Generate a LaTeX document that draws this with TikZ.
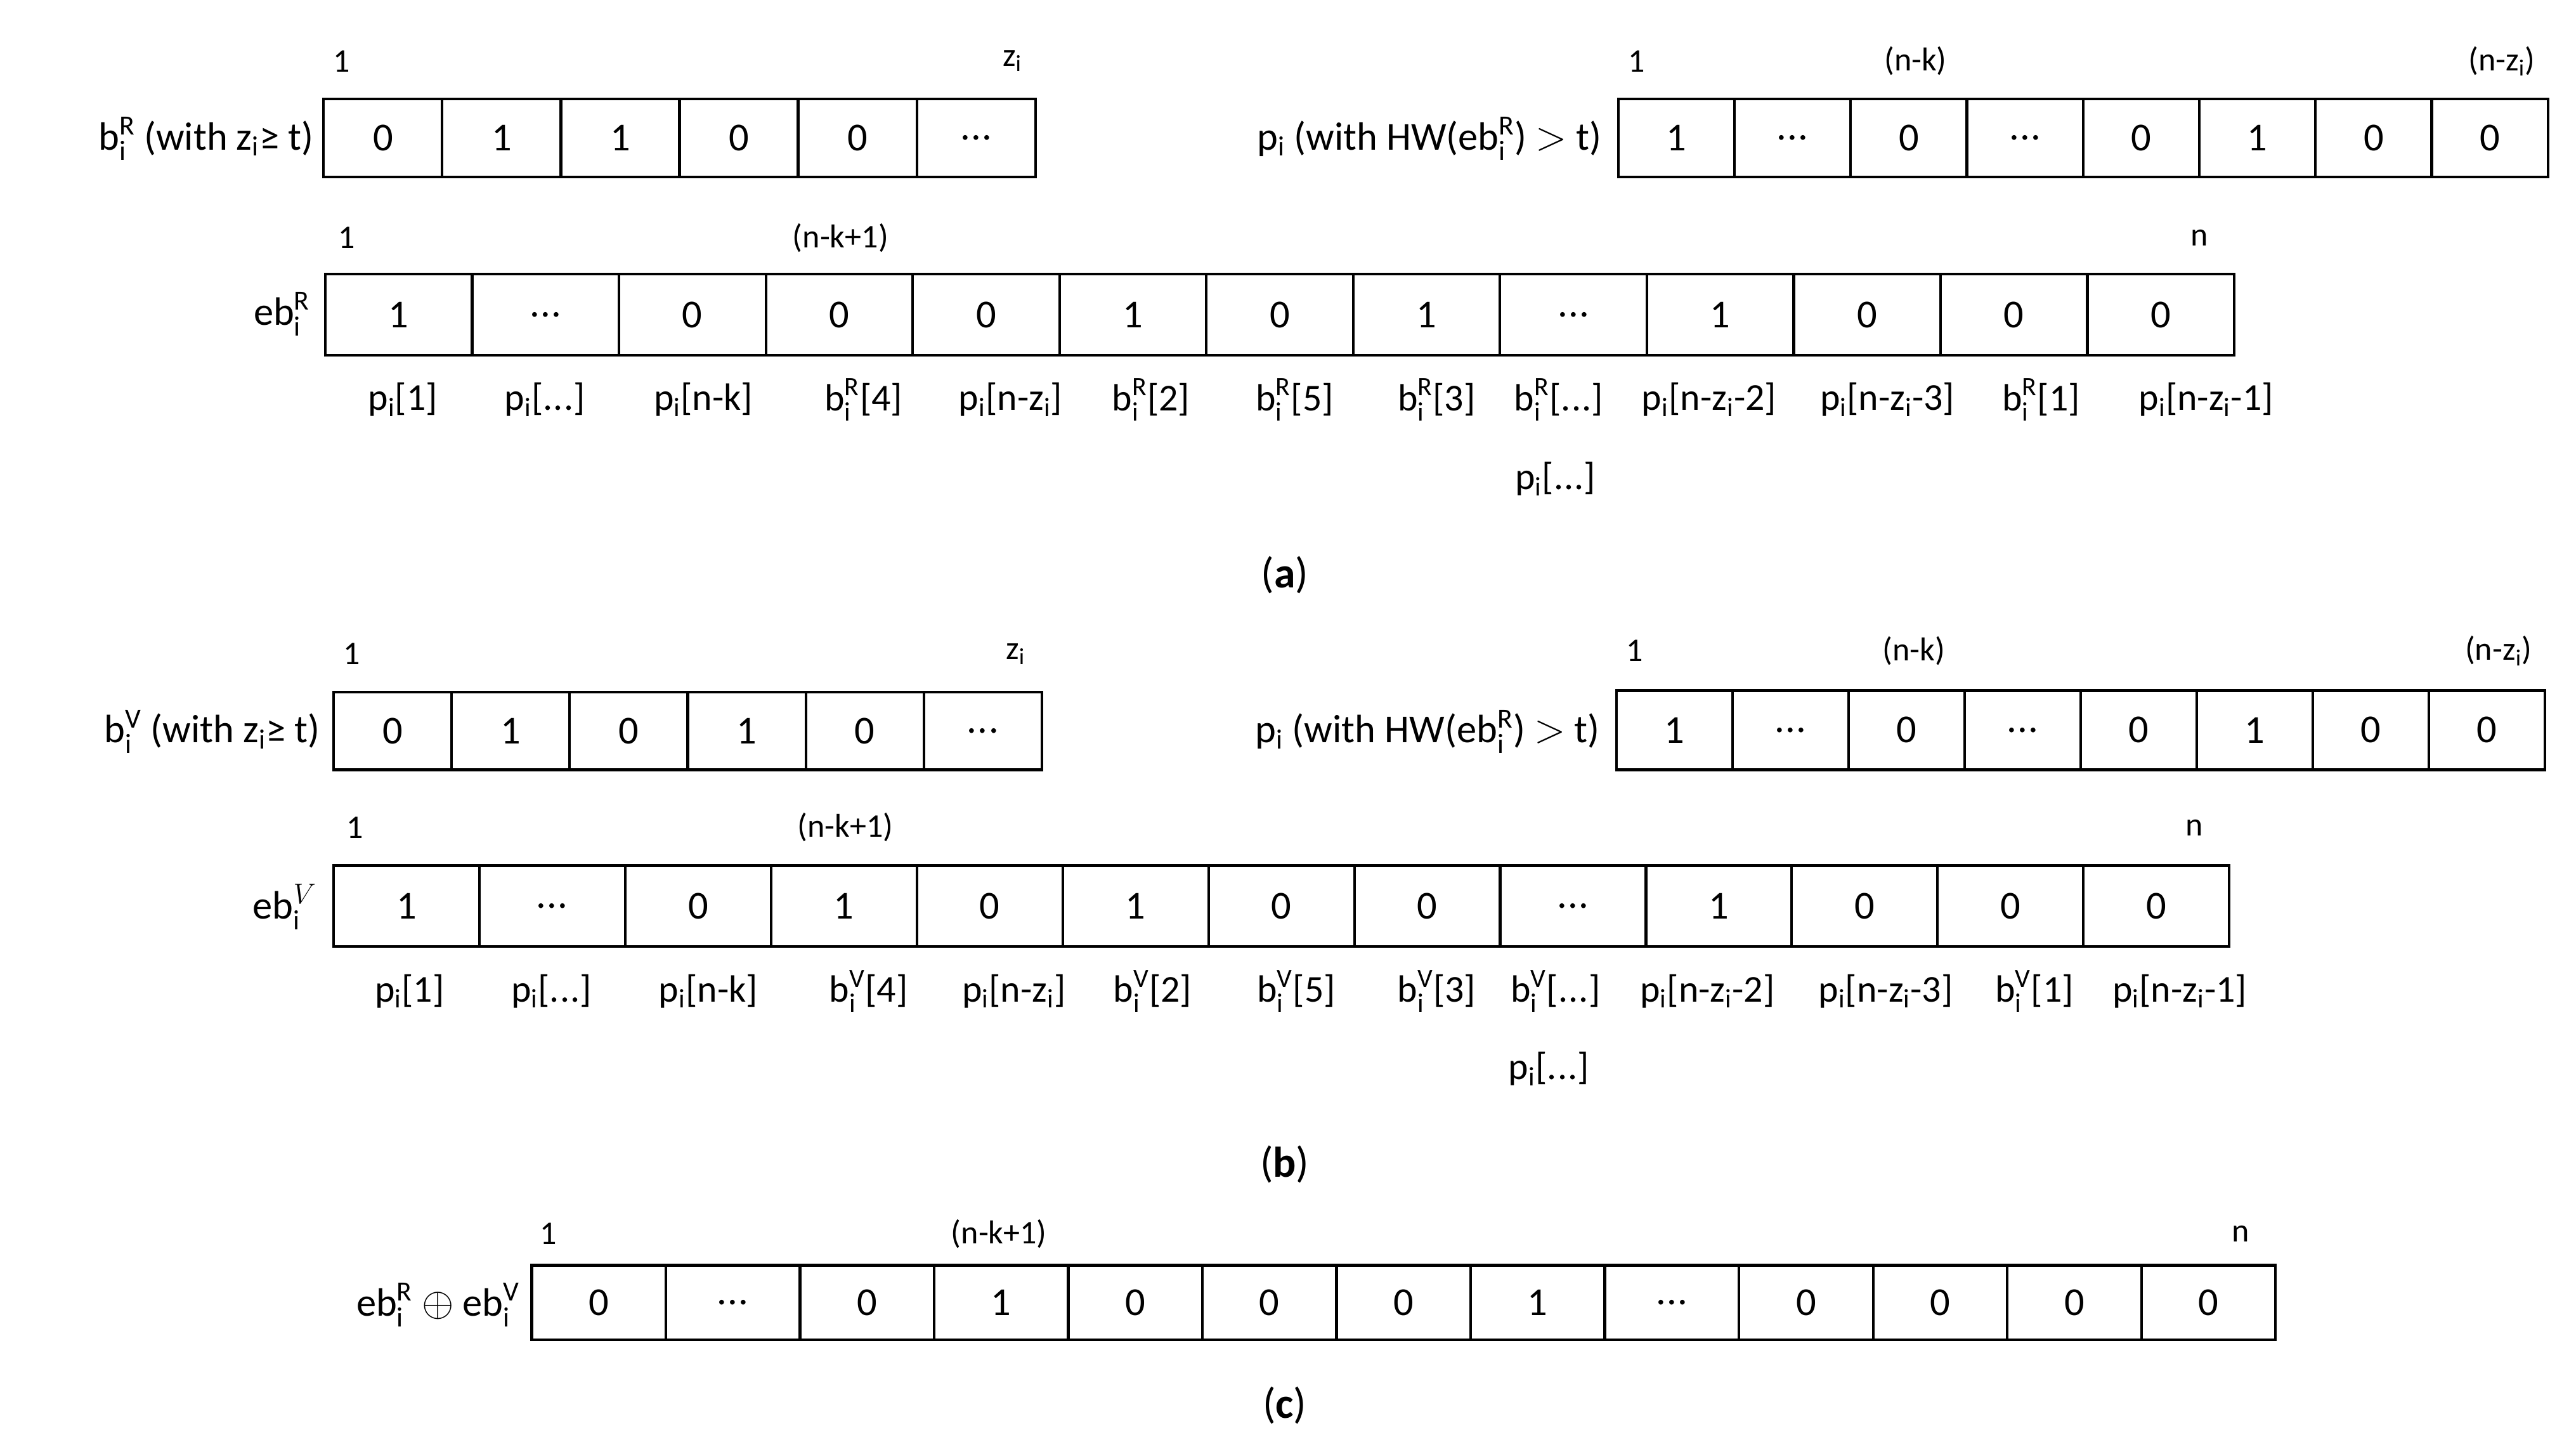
\documentclass[tikz,border=0pt]{standalone}
\usepackage{amsmath}
\usepackage{fontspec}
\setmainfont{Carlito}
\newcommand\sx[2]{$^{\text{#2}}_{\text{#1}}$}
\newcommand\dd{.\kern0.5pt.\kern0.5pt.}
\begin{document}
\begin{tikzpicture}[x=1pt,y=-1pt,
  cell/.style={draw,line width=1.6pt,inner sep=0pt,font=\fontsize{24}{26}\selectfont},
  idx/.style={font=\fontsize{20}{22}\selectfont,inner sep=0pt},
  lab/.style={font=\fontsize{24}{26}\selectfont,inner sep=0pt},
  bl/.style={font=\fontsize{23}{25}\selectfont,inner sep=0pt},
  captxt/.style={font=\fontsize{26}{28}\selectfont\rmfamily,inner sep=0pt}]
\useasboundingbox (0,0) rectangle (1560,876);
\newcommand\cellrow[7]{% name, x0, x1, ytop, ybot, count, values
  \pgfmathsetmacro\w{(#3-#2)/#6}
  \foreach \v [count=\i] in {#7} {
    \node[cell,minimum width=\w pt,minimum height={(#5-#4)*1pt}] (#1\i) at ({#2+(\i-0.5)*\w},{(#4+#5)/2}) {\v};
  }}
% ---------- (a)
\cellrow{ab}{196}{627}{60}{107}{6}{0,1,1,0,0,\dd}
\node[lab,anchor=east] (abl) at (190,84) {b\sx{i}{R} (with z$_{\text{i}}$≥ t)};
\node[idx] (abi1) at (207,37) {1};
\node[idx] (abiz) at (613,37) {z$_{\text{i}}$};
\cellrow{ap}{980}{1543}{60}{107}{8}{1,\dd,0,\dd,0,1,0,0}
\node[lab,anchor=east] (apl) at (970,84) {p$_{\text{i}}$ (with HW(eb\sx{i}{R}) $>$ t)};
\node[idx] (api1) at (991,37) {1};
\node[idx] (apik) at (1160,37) {(n-k)};
\node[idx] (apiz) at (1515,37) {(n-z$_{\text{i}}$)};
\cellrow{ae}{197}{1353}{166}{215}{13}{1,\dd,0,0,0,1,0,1,\dd,1,0,0,0}
\node[lab,anchor=east] (ael) at (188,190) {eb\sx{i}{R}};
\node[idx] (aei1) at (210,144) {1};
\node[idx] (aeik) at (509,144) {(n-k+1)};
\node[idx] (aein) at (1332,144) {n};
\foreach \x/\t [count=\j] in {244/p$_{\text{i}}$[1],330/p$_{\text{i}}$[\dd],426/p$_{\text{i}}$[n-k],523/b\sx{i}{R}[4],612/p$_{\text{i}}$[n-z$_{\text{i}}$],697/b\sx{i}{R}[2],784/b\sx{i}{R}[5],870/b\sx{i}{R}[3],944/b\sx{i}{R}[\dd],1035/p$_{\text{i}}$[n-z$_{\text{i}}$-2],1143/p$_{\text{i}}$[n-z$_{\text{i}}$-3],1236/b\sx{i}{R}[1],1336/p$_{\text{i}}$[n-z$_{\text{i}}$-1]}
  \node[bl] (abl\j) at (\x,242) {\t};
\node[bl] (ablx) at (942,290) {p$_{\text{i}}$[\dd]};
\node[captxt] (capa) at (778,348) {(\textbf{a})};
% ---------- (b)
\cellrow{bb}{202}{631}{419}{466}{6}{0,1,0,1,0,\dd}
\node[lab,anchor=east] (bbl) at (194,443) {b\sx{i}{V} (with z$_{\text{i}}$≥ t)};
\node[idx] (bbi1) at (213,396) {1};
\node[idx] (bbiz) at (615,396) {z$_{\text{i}}$};
\cellrow{bp}{979}{1541}{418}{466}{8}{1,\dd,0,\dd,0,1,0,0}
\node[lab,anchor=east] (bpl) at (969,443) {p$_{\text{i}}$ (with HW(eb\sx{i}{R}) $>$ t)};
\node[idx] (bpi1) at (990,394) {1};
\node[idx] (bpik) at (1159,394) {(n-k)};
\node[idx] (bpiz) at (1513,394) {(n-z$_{\text{i}}$)};
\cellrow{be}{202}{1350}{524}{573}{13}{1,\dd,0,1,0,1,0,0,\dd,1,0,0,0}
\node[lab,anchor=east] (bel) at (192,549) {eb$^{V}_{\text{i}}$};
\node[idx] (bei1) at (215,501) {1};
\node[idx] (beik) at (512,501) {(n-k+1)};
\node[idx] (bein) at (1329,501) {n};
\foreach \x/\t [count=\j] in {248/p$_{\text{i}}$[1],334/p$_{\text{i}}$[\dd],429/p$_{\text{i}}$[n-k],526/b\sx{i}{V}[4],614/p$_{\text{i}}$[n-z$_{\text{i}}$],698/b\sx{i}{V}[2],785/b\sx{i}{V}[5],870/b\sx{i}{V}[3],942/b\sx{i}{V}[\dd],1034/p$_{\text{i}}$[n-z$_{\text{i}}$-2],1142/p$_{\text{i}}$[n-z$_{\text{i}}$-3],1232/b\sx{i}{V}[1],1320/p$_{\text{i}}$[n-z$_{\text{i}}$-1]}
  \node[bl] (bbl\j) at (\x,600) {\t};
\node[bl] (bblx) at (938,647) {p$_{\text{i}}$[\dd]};
\node[captxt] (capb) at (778,705) {(\textbf{b})};
% ---------- (c)
\cellrow{ce}{322}{1378}{766}{811}{13}{0,\dd,0,1,0,0,0,1,\dd,0,0,0,0}
\node[lab,anchor=east] (cel) at (315,790) {eb\sx{i}{R} $\oplus$ eb\sx{i}{V}};
\node[idx] (cei1) at (332,747) {1};
\node[idx] (ceik) at (605,747) {(n-k+1)};
\node[idx] (cein) at (1357,747) {n};
\node[captxt] (capc) at (778,851) {(\textbf{c})};
\end{tikzpicture}
\end{document}
